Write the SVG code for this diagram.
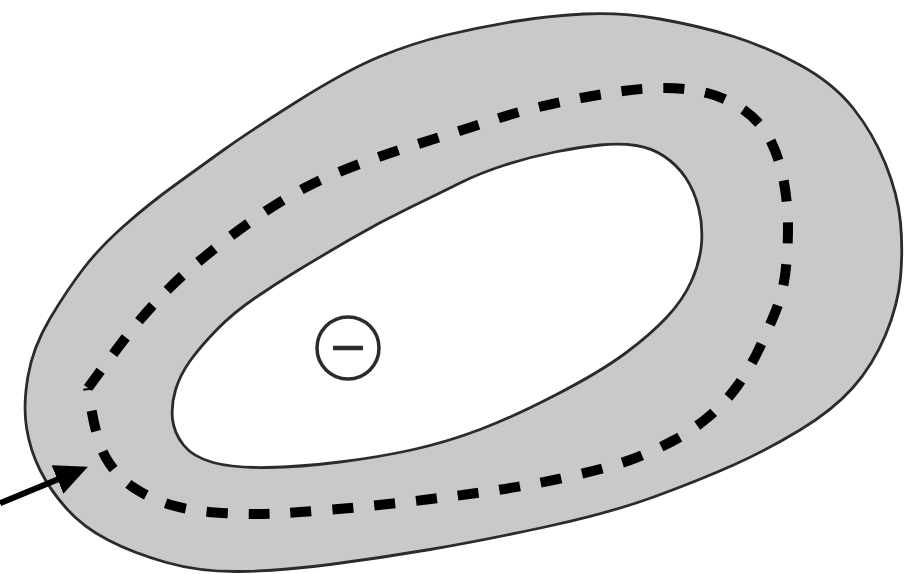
<svg xmlns="http://www.w3.org/2000/svg" width="914" height="574" viewBox="0 0 914 574">
  <style>
    .outline { stroke: #2b2b2b; stroke-width: 2.8; stroke-linejoin: round; }
    .ringfill { fill: #c9c9c9; }
    .hole { fill: #ffffff; }
    .dash { fill: none; stroke: #000000; stroke-width: 10; stroke-dasharray: 21 21; stroke-linecap: butt; }
    .arrow { fill: none; stroke: #000000; stroke-width: 6; }
    .charge { fill: #ffffff; stroke: #2b2b2b; stroke-width: 3.5; }
    .minus { stroke: #2b2b2b; stroke-width: 4.5; }
  </style>
  <defs>
    <marker id="head" markerUnits="userSpaceOnUse" markerWidth="34" markerHeight="32" refX="2" refY="16" orient="auto">
      <path d="M0 0.5 L33 16 L0 31.5 Z" fill="#000000"/>
    </marker>
  </defs>
  <rect x="0" y="0" width="914" height="574" fill="#ffffff"/>

  <g id="ring">
    <path class="ringfill outline" d="M 583.5 14 Q 620 12 660 19 Q 700 26 733.5 36.5 Q 767 47 800 65 Q 833 83 853 108 Q 873 133 885.5 164 Q 898 195 900.5 222.5 Q 903 250 900.5 277.5 Q 898 305 885.5 335 Q 873 365 853 387.5 Q 833 410 800 430 Q 767 450 733.5 465 Q 700 480 655 496.5 Q 610 513 545 527 Q 480 541 430 549.5 Q 380 558 330 564.5 Q 280 571 240 571.5 Q 200 572 166.5 562.5 Q 133 553 108 540 Q 83 527 66.5 508.5 Q 50 490 40 470 Q 30 450 26.5 427.5 Q 23 405 28 376 Q 33 347 50 318.5 Q 67 290 83.5 268.5 Q 100 247 125 225 Q 150 203 175 185 Q 200 167 223.5 150 Q 247 133 297 101.5 Q 347 70 380 56.5 Q 413 43 446.5 35 Q 480 27 513.5 21.5 Q 547 16 583.5 14 Z"/>
    <path class="hole outline" d="M 600 145 Q 620 143 636 145.5 Q 652 148 664.5 156.5 Q 677 165 685.5 177.5 Q 694 190 698.5 207.5 Q 703 225 701.5 243.5 Q 700 262 691.5 281 Q 683 300 666.5 317.5 Q 650 335 625 353.5 Q 600 372 556.5 394.5 Q 513 417 480 429.5 Q 447 442 413.5 449.5 Q 380 457 340 462 Q 300 467 266.5 467.5 Q 233 468 213 462.5 Q 193 457 183.5 445 Q 174 433 172.5 419 Q 171 405 175.5 390 Q 180 375 190 361 Q 200 347 216.5 330 Q 233 313 255 298 Q 277 283 298.5 270 Q 320 257 350 239.5 Q 380 222 410 207.5 Q 440 193 460 183 Q 480 173 505 165 Q 530 157 555 152 Q 580 147 600 145 Z"/>
  </g>

  <g id="loop">
    <path class="dash" d="M 88 388 Q 121 343 134.5 326.5 Q 148 310 162.5 295 Q 177 280 193.5 266 Q 210 252 227 239 Q 244 226 261.5 214 Q 279 202 298 191.5 Q 317 181 336.5 173 Q 356 165 376 158 Q 396 151 416.5 144.5 Q 437 138 457.5 131.5 Q 478 125 498 118.5 Q 518 112 539 107 Q 560 102 581 98 Q 602 94 623 91 Q 644 88 665.5 88 Q 687 88 707 93 Q 727 98 744.5 110.5 Q 762 123 771 141.5 Q 780 160 784 182.5 Q 788 205 788 227.5 Q 788 250 785.5 271.5 Q 783 293 775.5 311.5 Q 768 330 759 349 Q 750 368 738 385 Q 726 402 709.5 416 Q 693 430 674.5 440 Q 656 450 635.5 458 Q 615 466 574 475.5 Q 533 485 491 491 Q 449 497 406.5 502 Q 364 507 321.5 510.5 Q 279 514 258 514 Q 237 514 215 512.5 Q 193 511 173 505.5 Q 153 500 135 488.5 Q 117 477 106 458 Q 95 439 88 388"/>
  </g>

  <g id="charge">
    <circle class="charge" cx="348" cy="348" r="31"/>
    <line class="minus" x1="333" y1="348" x2="363" y2="348"/>
  </g>

  <g id="connectors">
    <line class="arrow" x1="0" y1="503.3" x2="59.3" y2="478.7" marker-end="url(#head)"/>
  </g>
</svg>
